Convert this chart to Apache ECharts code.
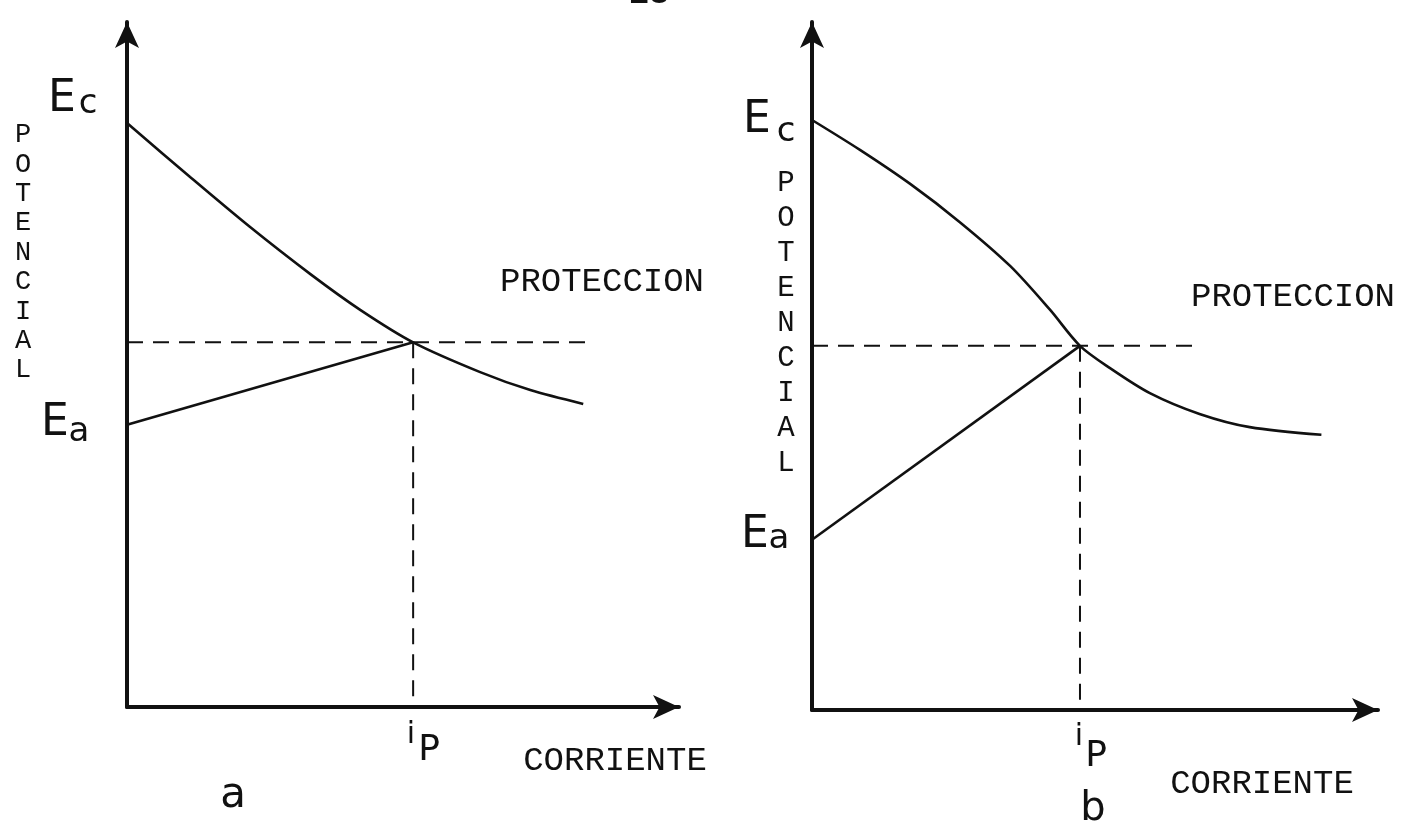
<!DOCTYPE html>
<html>
<head>
<meta charset="utf-8">
<title>Potencial - Corriente</title>
<script src="https://cdn.jsdelivr.net/npm/echarts@6/dist/echarts.min.js"></script>
<style>
  html, body { margin: 0; padding: 0; background: #fff; }
  #chart { width: 1418px; height: 827px; }
</style>
</head>
<body>
<div id="chart"></div>
<script>
// --- datos (unidades arbitrarias 0-100) ---
// figura a
const corrienteA = [0, 11.2, 21.8, 32.5, 41.4, 50.8, 62.7, 71.6, 81.0];
const catodoA = [84.4, 76.6, 69.4, 62.6, 57.4, 52.7, 48.4, 45.8, 43.8];
const anodoXA = [0, 50.8];
const anodoYA = [40.8, 52.7];
const ipA = 50.8;          // corriente de proteccion
const eProtA = 52.7;       // potencial de proteccion
const finProtA = 82.2;     // fin de la linea punteada

// figura b
const corrienteB = [0, 8.3, 17.0, 25.6, 34.3, 41.2, 46.4, 51.6, 58.5, 67.1, 75.8, 88.2];
const catodoB = [84.9, 80.6, 75.7, 70.2, 63.9, 57.6, 52.4, 49.2, 45.6, 42.6, 40.7, 39.6];
const anodoXB = [0, 46.4];
const anodoYB = [24.5, 52.4];
const ipB = 46.4;
const eProtB = 52.4;
const finProtB = 67.5;

const ejeLetras = 'POTENCIAL'.split('');

function pares(xs, ys) {
  return xs.map(function (x, i) { return [x, ys[i]]; });
}

const chart = echarts.init(document.getElementById('chart'));

const tinta = '#111';
const mono = '"Liberation Mono", "DejaVu Sans Mono", monospace';
const sans = '"DejaVu Sans", "Liberation Sans", sans-serif';

function eje(idx, max) {
  return {
    type: 'value',
    gridIndex: idx,
    min: 0,
    max: max,
    axisLine: {
      show: true,
      symbol: ['none', 'arrow'],
      symbolSize: [18, 26],
      lineStyle: { color: tinta, width: 4 }
    },
    axisTick: { show: false },
    axisLabel: { show: false },
    splitLine: { show: false }
  };
}

function solida(idx, data, smooth) {
  return {
    type: 'line',
    xAxisIndex: idx,
    yAxisIndex: idx,
    data: data,
    smooth: smooth,
    showSymbol: false,
    silent: true,
    lineStyle: { color: tinta, width: 2.6 }
  };
}

function punteada(idx, data) {
  return {
    type: 'line',
    xAxisIndex: idx,
    yAxisIndex: idx,
    data: data,
    showSymbol: false,
    silent: true,
    lineStyle: { color: tinta, width: 2, type: [16, 10] }
  };
}

// textos sueltos (etiquetas a mano y a maquina)
function texto(t, x, y, font, align) {
  return {
    type: 'text',
    style: {
      text: t, x: x, y: y, font: font, fill: tinta,
      align: align || 'center', verticalAlign: 'middle'
    }
  };
}

var graficos = [];
// figura a
graficos.push(texto('E', 62, 100, '44px ' + sans));
graficos.push(texto('c', 88, 104, '34px ' + sans));
graficos.push(texto('E', 55, 424, '44px ' + sans));
graficos.push(texto('a', 79, 432, '34px ' + sans));
graficos.push(texto('i', 411, 735, '30px ' + sans));
graficos.push(texto('P', 429, 751, '36px ' + sans));
graficos.push(texto('PROTECCION', 602, 282, '34px ' + mono));
graficos.push(texto('CORRIENTE', 615, 761, '34px ' + mono));
graficos.push(texto('a', 233, 796, '42px ' + sans));
ejeLetras.forEach(function (l, k) {
  graficos.push(texto(l, 23, 135 + 29.4 * k, '27px ' + mono));
});
// figura b
graficos.push(texto('E', 757, 121, '44px ' + sans));
graficos.push(texto('c', 786, 132, '34px ' + sans));
graficos.push(texto('E', 755, 536, '44px ' + sans));
graficos.push(texto('a', 779, 539, '34px ' + sans));
graficos.push(texto('i', 1079, 737, '30px ' + sans));
graficos.push(texto('P', 1096, 757, '36px ' + sans));
graficos.push(texto('PROTECCION', 1293, 297, '34px ' + mono));
graficos.push(texto('CORRIENTE', 1262, 784, '34px ' + mono));
graficos.push(texto('b', 1093, 810, '40px ' + sans));
ejeLetras.forEach(function (l, k) {
  graficos.push(texto(l, 786, 183 + 35.1 * k, '29px ' + mono));
});
// numero de pagina, cortado arriba
graficos.push({
  type: 'text',
  style: {
    text: '18', x: 649, y: 11, font: 'bold 34px ' + mono, fill: tinta,
    align: 'center', verticalAlign: 'bottom'
  }
});

var option = {
  backgroundColor: '#fff',
  animation: false,
  grid: [
    { left: 127, top: 22, width: 552, height: 685 },
    { left: 812, top: 22, width: 566, height: 688 }
  ],
  xAxis: [eje(0, 98), eje(1, 98)],
  yAxis: [eje(0, 99), eje(1, 99)],
  series: [
    // a
    solida(0, pares(corrienteA, catodoA), 0.3),
    solida(0, pares(anodoXA, anodoYA), false),
    punteada(0, [[0, eProtA], [finProtA, eProtA]]),
    punteada(0, [[ipA, eProtA], [ipA, 0]]),
    // b
    solida(1, pares(corrienteB, catodoB), 0.3),
    solida(1, pares(anodoXB, anodoYB), false),
    punteada(1, [[0, eProtB], [finProtB, eProtB]]),
    punteada(1, [[ipB, eProtB], [ipB, 0]])
  ],
  graphic: graficos
};

chart.setOption(option);
</script>
</body>
</html>
